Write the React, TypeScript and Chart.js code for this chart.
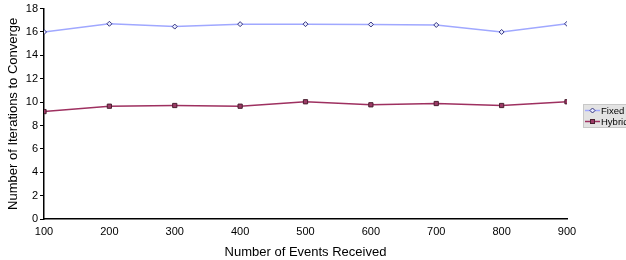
import React, { useEffect, useRef } from "react";
import { Chart, registerables } from "chart.js";

Chart.register(...registerables);

const events = [100, 200, 300, 400, 500, 600, 700, 800, 900];
const fixedIters = [16.0, 16.7, 16.46, 16.67, 16.67, 16.64, 16.6, 16.0, 16.7];
const hybridIters = [9.19, 9.65, 9.71, 9.65, 10.03, 9.77, 9.88, 9.71, 10.03];
const seriesLabels = ["Fixed", "Hybrid"];
const xTitle = "Number of Events Received";
const yTitle = "Number of Iterations to Converge";

const FONT = "'Liberation Sans', Arial, sans-serif";

const legendBox = {
  id: "legendBox",
  afterDraw(chart: any) {
    const ctx = chart.ctx;
    const x = 583, y = 104, w = 50, h = 24;
    ctx.save();
    ctx.fillStyle = "#e3e3e3";
    ctx.fillRect(x, y, w, h);
    ctx.strokeStyle = "#c8c8c8";
    ctx.lineWidth = 1;
    ctx.strokeRect(x + 0.5, y + 0.5, w, h - 1);
    ctx.font = `9.5px ${FONT}`;
    ctx.textBaseline = "middle";
    chart.data.datasets.forEach((ds: any, i: number) => {
      const cy = y + 6.5 + i * 11;
      ctx.strokeStyle = ds.borderColor;
      ctx.lineWidth = 1.5;
      ctx.beginPath();
      ctx.moveTo(x + 2, cy);
      ctx.lineTo(x + 17, cy);
      ctx.stroke();
      ctx.fillStyle = ds.pointBackgroundColor;
      ctx.strokeStyle = ds.pointBorderColor;
      ctx.lineWidth = 1;
      if (i === 0) {
        ctx.beginPath();
        ctx.moveTo(x + 9.5, cy - 2.5);
        ctx.lineTo(x + 12, cy);
        ctx.lineTo(x + 9.5, cy + 2.5);
        ctx.lineTo(x + 7, cy);
        ctx.closePath();
        ctx.fill();
        ctx.stroke();
      } else {
        ctx.fillRect(x + 7.5, cy - 2, 4, 4);
        ctx.strokeRect(x + 7.5, cy - 2, 4, 4);
      }
      ctx.fillStyle = "#000";
      ctx.fillText(ds.label, x + 18, cy + 0.5);
    });
    ctx.restore();
  },
};

export default function App() {
  const ref = useRef<HTMLCanvasElement | null>(null);
  useEffect(() => {
    if (!ref.current) return;
    const chart = new Chart(ref.current, {
      type: "line",
      data: {
        datasets: [
          {
            label: seriesLabels[0],
            data: events.map((e, i) => ({ x: e, y: fixedIters[i] })),
            borderColor: "#a0a8ff",
            borderWidth: 1.5,
            pointStyle: "rectRot",
            pointRadius: 2.5,
            pointBackgroundColor: "#e8ecff",
            pointBorderColor: "#333380",
            pointBorderWidth: 1,
            tension: 0,
          },
          {
            label: seriesLabels[1],
            data: events.map((e, i) => ({ x: e, y: hybridIters[i] })),
            borderColor: "#9e3060",
            borderWidth: 1.5,
            pointStyle: "rect",
            pointRadius: 3,
            pointBackgroundColor: "#9c3a66",
            pointBorderColor: "#4a2030",
            pointBorderWidth: 1,
            tension: 0,
          },
        ],
      },
      options: {
        animation: false,
        responsive: false,
        maintainAspectRatio: false,
        layout: { padding: { top: 8, right: 59, left: 6, bottom: 0 } },
        plugins: { legend: { display: false }, tooltip: { enabled: false } },
        scales: {
          x: {
            type: "linear",
            min: 100,
            max: 900,
            grid: { display: false, drawOnChartArea: false, tickLength: 4, color: "#000" },
            border: { color: "#000", width: 1.5 },
            ticks: { stepSize: 100, color: "#000", font: { family: FONT, size: 11 }, padding: 2 },
            title: { display: true, text: xTitle, color: "#000", font: { family: FONT, size: 13 }, padding: { top: 5, bottom: 0 } },
            afterFit: (s: any) => { s.height = 41; },
          },
          y: {
            min: 0,
            max: 18,
            grid: { display: true, drawOnChartArea: false, tickLength: 4, color: "#000" },
            border: { color: "#000", width: 1.5 },
            ticks: { stepSize: 2, color: "#000", font: { family: FONT, size: 11 }, padding: 2 },
            title: { display: true, text: yTitle, color: "#000", font: { family: FONT, size: 13 }, padding: { top: 0, bottom: 2 } },
            afterFit: (s: any) => { s.width = 38; },
          },
        },
      },
      plugins: [legendBox],
    } as any);
    return () => chart.destroy();
  }, []);
  return (
    <div style={{ position: "fixed", left: 0, top: 0, width: 626, height: 260, background: "#fff" }}>
      <canvas ref={ref} width={626} height={260} style={{ width: 626, height: 260 }} />
    </div>
  );
}
